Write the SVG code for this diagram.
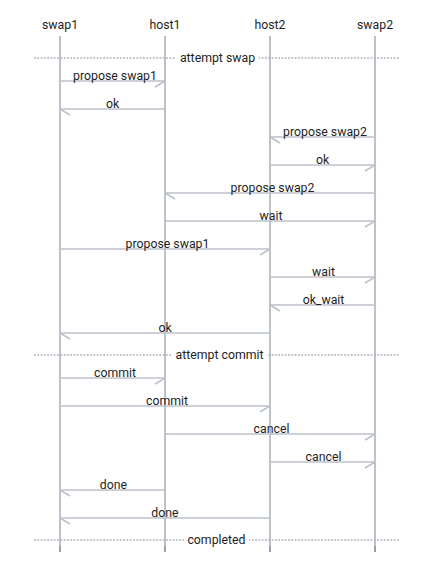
<svg xmlns="http://www.w3.org/2000/svg" width="447" height="584" viewBox="0 0 447 584">
<style>
text{font-family:Roboto,"Liberation Sans",sans-serif;font-size:12.3px;fill:#1e1e1e;text-anchor:middle}
.life{stroke:#bcc2ca;stroke-width:2;fill:none}
.lifeEnd{stroke:#9aa2ac;stroke-width:2}
.msg{stroke:#bcc2ca;stroke-width:1.6;fill:none}
.r{marker-end:url(#arrR)}
.l{marker-end:url(#arrL)}
.div{stroke:#aab1ba;stroke-width:1.6;stroke-dasharray:1.8 1.5}
.bg{fill:#fff}
</style>
<defs>
<marker id="arrR" markerUnits="userSpaceOnUse" viewBox="-12 -2 14 10" markerWidth="14" markerHeight="10" refX="0" refY="0" orient="0" overflow="visible">
<path d="M0,0 L-10,6" stroke="#bcc2ca" stroke-width="1.6" fill="none"/>
</marker>
<marker id="arrL" markerUnits="userSpaceOnUse" viewBox="-2 -2 14 10" markerWidth="14" markerHeight="10" refX="0" refY="0" orient="0" overflow="visible">
<path d="M0,0 L10,6" stroke="#bcc2ca" stroke-width="1.6" fill="none"/>
</marker>
</defs>
<rect width="447" height="584" fill="#fff"/>
<g id="swap1"><text x="60" y="29">swap1</text><line class="life" x1="60" y1="36" x2="60" y2="552"/><line class="lifeEnd" x1="60" y1="546" x2="60" y2="552"/></g>
<g id="host1"><text x="165" y="29">host1</text><line class="life" x1="165" y1="36" x2="165" y2="552"/><line class="lifeEnd" x1="165" y1="546" x2="165" y2="552"/></g>
<g id="host2"><text x="270" y="29">host2</text><line class="life" x1="270" y1="36" x2="270" y2="552"/><line class="lifeEnd" x1="270" y1="546" x2="270" y2="552"/></g>
<g id="swap2"><text x="375" y="29">swap2</text><line class="life" x1="375" y1="36" x2="375" y2="552"/><line class="lifeEnd" x1="375" y1="546" x2="375" y2="552"/></g>
<g id="dividers">
<line class="div" x1="34" y1="58" x2="400" y2="58"/><rect class="bg" x="176" y="51" width="83" height="14"/><text x="217.5" y="62">attempt swap</text>
<line class="div" x1="34" y1="355" x2="400" y2="355"/><rect class="bg" x="171" y="348" width="97" height="14"/><text x="219.5" y="359">attempt commit</text>
<line class="div" x1="34" y1="540" x2="400" y2="540"/><rect class="bg" x="184" y="533" width="65" height="14"/><text x="216.5" y="544">completed</text>
</g>
<g id="connectors">
<line class="msg r" x1="60" y1="81" x2="165" y2="81"/><text x="115" y="80">propose swap1</text>
<line class="msg l" x1="165" y1="109" x2="60" y2="109"/><text x="112.5" y="108">ok</text>
<line class="msg l" x1="375" y1="137" x2="270" y2="137"/><text x="325" y="136">propose swap2</text>
<line class="msg r" x1="270" y1="165" x2="375" y2="165"/><text x="322.5" y="164">ok</text>
<line class="msg l" x1="375" y1="193" x2="165" y2="193"/><text x="272.5" y="192">propose swap2</text>
<line class="msg r" x1="165" y1="221" x2="375" y2="221"/><text x="271" y="220">wait</text>
<line class="msg r" x1="60" y1="249" x2="270" y2="249"/><text x="167.5" y="248">propose swap1</text>
<line class="msg r" x1="270" y1="277" x2="375" y2="277"/><text x="323.5" y="276">wait</text>
<line class="msg l" x1="375" y1="305" x2="270" y2="305"/><text x="323.5" y="304">ok_wait</text>
<line class="msg l" x1="270" y1="333" x2="60" y2="333"/><text x="165" y="332">ok</text>
<line class="msg r" x1="60" y1="378" x2="165" y2="378"/><text x="115" y="377">commit</text>
<line class="msg r" x1="60" y1="406" x2="270" y2="406"/><text x="167" y="405">commit</text>
<line class="msg r" x1="165" y1="434" x2="375" y2="434"/><text x="271.5" y="433">cancel</text>
<line class="msg r" x1="270" y1="462" x2="375" y2="462"/><text x="323.5" y="461">cancel</text>
<line class="msg l" x1="165" y1="490" x2="60" y2="490"/><text x="113.5" y="489">done</text>
<line class="msg l" x1="270" y1="518" x2="60" y2="518"/><text x="165" y="517">done</text>
</g>
</svg>
